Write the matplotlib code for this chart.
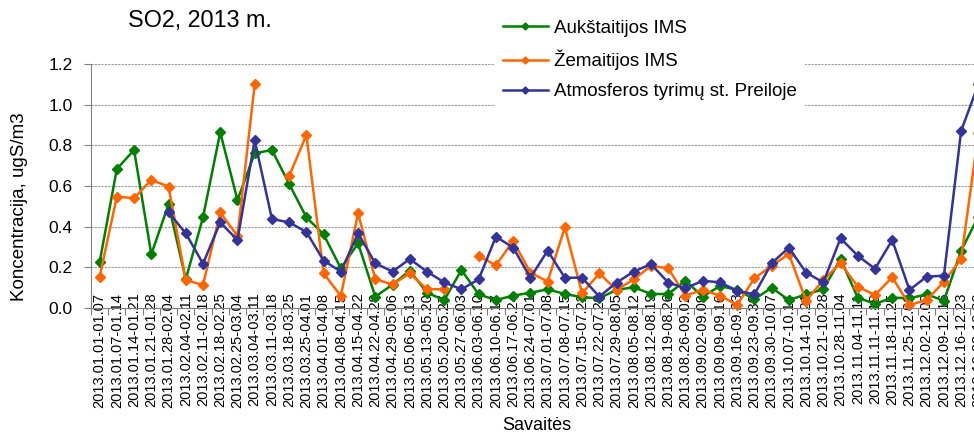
import numpy as np
import matplotlib
matplotlib.use("Agg")
import matplotlib.pyplot as plt

plt.rcParams['font.family'] = ['Liberation Sans', 'DejaVu Sans']

nan = np.nan

weeks = [
    "2013.01.01-01.07", "2013.01.07-01.14", "2013.01.14-01.21", "2013.01.21-01.28",
    "2013.01.28-02.04", "2013.02.04-02.11", "2013.02.11-02.18", "2013.02.18-02.25",
    "2013.02.25-03.04", "2013.03.04-03.11", "2013.03.11-03.18", "2013.03.18-03.25",
    "2013.03.25-04.01", "2013.04.01-04.08", "2013.04.08-04.15", "2013.04.15-04.22",
    "2013.04.22-04.29", "2013.04.29-05.06", "2013.05.06-05.13", "2013.05.13-05.20",
    "2013.05.20-05.27", "2013.05.27-06.03", "2013.06.03-06.10", "2013.06.10-06.17",
    "2013.06.17-06.24", "2013.06.24-07.01", "2013.07.01-07.08", "2013.07.08-07.15",
    "2013.07.15-07.22", "2013.07.22-07.29", "2013.07.29-08.05", "2013.08.05-08.12",
    "2013.08.12-08.19", "2013.08.19-08.26", "2013.08.26-09.02", "2013.09.02-09.09",
    "2013.09.09-09.16", "2013.09.16-09.23", "2013.09.23-09.30", "2013.09.30-10.07",
    "2013.10.07-10.14", "2013.10.14-10.21", "2013.10.21-10.28", "2013.10.28-11.04",
    "2013.11.04-11.11", "2013.11.11-11.18", "2013.11.18-11.25", "2013.11.25-12.02",
    "2013.12.02-12.09", "2013.12.09-12.16", "2013.12.16-12.23", "2013.12.23-12.30",
]

aukstaitijos = [0.225, 0.684, 0.777, 0.264, 0.51, 0.141, 0.446, 0.864, 0.531, 0.761,
                0.777, 0.61, 0.446, 0.362, 0.195, 0.318, 0.056, 0.115, 0.184, 0.075,
                0.039, 0.187, 0.067, 0.039, 0.061, 0.075, 0.092, 0.069, 0.053, 0.048,
                0.089, 0.102, 0.069, 0.069, 0.134, 0.056, 0.108, 0.089, 0.043, 0.1,
                0.039, 0.067, 0.092, 0.241, 0.051, 0.02, 0.051, 0.048, 0.067, 0.036,
                0.282, 0.45]

zemaitijos = [0.152, 0.548, 0.54, 0.63, 0.597, 0.138, 0.113, 0.47, 0.354, 1.10,
              nan, 0.649, 0.851, 0.17, 0.059, 0.466, 0.141, 0.116, 0.17, 0.092,
              0.092, nan, 0.256, 0.21, 0.33, 0.174, 0.13, 0.397, 0.072, 0.17,
              0.089, 0.141, 0.207, 0.195, 0.061, 0.089, 0.061, 0.015, 0.146, 0.207,
              0.266, 0.036, 0.138, 0.22, 0.105, 0.064, 0.151, 0.015, 0.039, 0.129,
              0.241, 0.86]

preila = [nan, nan, nan, nan, 0.471, 0.367, 0.218, 0.421, 0.334, 0.825,
          0.438, 0.421, 0.374, 0.233, 0.179, 0.367, 0.22, 0.179, 0.241, 0.179,
          0.126, 0.092, 0.141, 0.351, 0.297, 0.149, 0.282, 0.149, 0.149, 0.056,
          0.125, 0.179, 0.216, 0.125, 0.097, 0.134, 0.126, 0.085, 0.067, 0.22,
          0.297, 0.174, 0.126, 0.343, 0.257, 0.193, 0.334, 0.089, 0.154, 0.159,
          0.872, 1.10]

series = [
    ("Aukštaitijos IMS", aukstaitijos, "#008000"),
    ("Žemaitijos IMS", zemaitijos, "#FF6600"),
    ("Atmosferos tyrimų st. Preiloje", preila, "#333399"),
]

fig = plt.figure(figsize=(9.74, 4.36), dpi=100)
# axes runs a bit past the right edge, like the cropped original
ax = fig.add_axes([91 / 974, 128 / 436, 896 / 974, 244 / 436])

x = np.arange(len(weeks))
for name, vals, col in series:
    ax.plot(x, vals, color=col, lw=1.8, marker="D", ms=5.5, mfc=col, mec=col,
            label=name, clip_on=False)

ax.set_xlim(-0.5, len(weeks) - 0.5)
ax.set_ylim(0, 1.2)
ax.set_yticks(np.arange(0, 1.21, 0.2))
ax.set_yticklabels([f"{v:.1f}" for v in np.arange(0, 1.21, 0.2)], fontsize=12.5)
ax.yaxis.grid(True, color="#999999", linestyle=(0, (2, 1)), lw=0.8)
ax.set_axisbelow(True)

ax.set_xticks(np.arange(len(weeks) + 1) - 0.5)
ax.set_xticklabels([])
ax.set_xticks(x, minor=True)
ax.set_xticklabels(weeks, minor=True, rotation=90, fontsize=10.5)
ax.tick_params(axis="x", which="minor", length=0, pad=-11)
ax.tick_params(axis="x", which="major", length=5, color="#808080", direction="out")
ax.tick_params(axis="y", length=5, color="#808080", pad=8)

for s in ["top", "right"]:
    ax.spines[s].set_visible(False)
ax.spines["left"].set_color("#808080")
ax.spines["bottom"].set_color("#808080")

fig.text(20 / 974, 1 - 207 / 436, "Koncentracija, ugS/m3", rotation=90,
         ha="center", va="center", fontsize=13.5)
fig.text(537 / 974, 1 - 425 / 436, "Savaitės", ha="center", va="center", fontsize=13)
fig.text(128 / 974, 1 - 20 / 436, "SO2, 2013 m.", ha="left", va="center", fontsize=16.8)

leg = fig.legend(loc="upper left", bbox_to_anchor=(486 / 974, 1 - 3 / 436),
                 fontsize=13.5, frameon=True, facecolor="white", edgecolor="white",
                 framealpha=1, fancybox=False, handlelength=2.4, handletextpad=0.3,
                 labelspacing=0.68, markerscale=0.65, borderpad=0.4)

fig.savefig("out.png", dpi=100)
